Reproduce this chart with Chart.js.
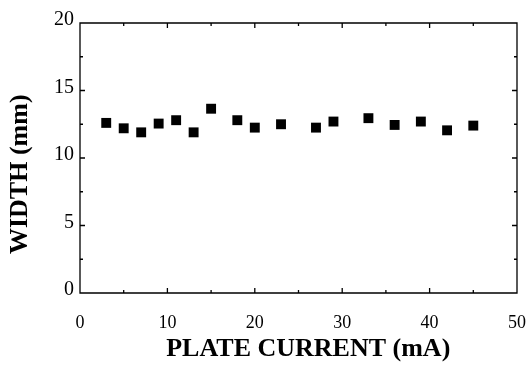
<!DOCTYPE html>
<html>
<head>
<meta charset="utf-8">
<script src="https://cdn.jsdelivr.net/npm/chart.js@4/dist/chart.umd.min.js"></script>
<style>
    html, body { margin: 0; padding: 0; background: #fff; }
    #wrap { width: 528px; height: 365px; }
</style>
</head>
<body>
<div id="wrap"><canvas id="myChart"></canvas></div>
<script>
// plate current (mA) and measured width (mm)
const currents = [3, 5, 7, 9, 11, 13, 15, 18, 20, 23, 27, 29, 33, 36, 39, 42, 45];
const widths = [12.6, 12.2, 11.9, 12.55, 12.8, 11.9, 13.65, 12.8, 12.25, 12.5, 12.25, 12.7, 12.95, 12.45, 12.7, 12.05, 12.4];
const xTicks = [0, 10, 20, 30, 40, 50];
const yTicks = [0, 5, 10, 15, 20];
const xMinor = [5, 15, 25, 35, 45];
const yMinor = [2.5, 7.5, 12.5, 17.5];

const serif = "'Liberation Serif', 'DejaVu Serif', serif";

// frame plus inward ticks on all four sides
const frameTicks = {
    id: "frameTicks",
    afterDraw(chart) {
        const { ctx, chartArea: a, scales } = chart;
        const x = scales.x, y = scales.y;
        ctx.save();
        ctx.strokeStyle = "#000";
        ctx.lineWidth = 1.3;
        ctx.beginPath();
        ctx.moveTo(a.left, a.top);
        ctx.lineTo(a.right, a.top);
        ctx.lineTo(a.right, a.bottom);
        ctx.lineTo(a.left, a.bottom);
        ctx.closePath();
        const tickX = (v, len) => {
            const px = x.getPixelForValue(v);
            ctx.moveTo(px, a.bottom); ctx.lineTo(px, a.bottom - len);
            ctx.moveTo(px, a.top); ctx.lineTo(px, a.top + len);
        };
        const tickY = (v, len) => {
            const py = y.getPixelForValue(v);
            ctx.moveTo(a.left, py); ctx.lineTo(a.left + len, py);
            ctx.moveTo(a.right, py); ctx.lineTo(a.right - len, py);
        };
        xTicks.forEach(v => tickX(v, 5));
        xMinor.forEach(v => tickX(v, 3));
        yTicks.forEach(v => tickY(v, 5));
        yMinor.forEach(v => tickY(v, 3));
        ctx.stroke();
        ctx.restore();
    }
};

// invisible tick marks are used as spacers so label padding
// does not eat into the chart area
const hiddenGrid = (len) => ({
    display: true,
    drawOnChartArea: false,
    drawTicks: true,
    tickLength: len,
    color: "rgba(0,0,0,0)",
});

new Chart(document.getElementById("myChart"), {
    type: "scatter",
    data: {
        datasets: [{
            data: currents.map((c, i) => ({ x: c, y: widths[i] })),
            pointStyle: "rect",
            pointRadius: 7,
            pointHoverRadius: 7,
            backgroundColor: "#000",
            borderColor: "#000",
            borderWidth: 0,
        }],
    },
    options: {
        responsive: true,
        maintainAspectRatio: false,
        animation: false,
        layout: { padding: { top: 23, right: 11, left: 0, bottom: 0 } },
        plugins: {
            legend: { display: false },
            tooltip: { enabled: false },
        },
        scales: {
            x: {
                type: "linear",
                min: 0,
                max: 50,
                afterBuildTicks: s => { s.ticks = xTicks.map(v => ({ value: v })); },
                afterFit: s => { s.height = 72; },
                grid: hiddenGrid(19),
                border: { display: false },
                ticks: {
                    color: "#000",
                    padding: 0,
                    maxRotation: 0,
                    font: { family: serif, size: 18 },
                },
                title: {
                    display: true,
                    // leading spaces nudge the label right as in the original
                    text: "\u00a0\u00a0\u00a0PLATE CURRENT (mA)",
                    color: "#000",
                    padding: { top: 1, bottom: 0 },
                    font: { family: serif, size: 26, weight: "bold" },
                },
            },
            y: {
                min: 0,
                max: 20,
                afterBuildTicks: s => { s.ticks = yTicks.map(v => ({ value: v })); },
                afterFit: s => { s.width = 80; },
                grid: hiddenGrid(6),
                border: { display: false },
                ticks: {
                    color: "#000",
                    padding: 0,
                    callback: v => [String(v), ""],
                    font: { family: serif, size: 20, lineHeight: 0.3 },
                },
                title: {
                    display: true,
                    // trailing spaces push the label down the axis as in the original
                    text: "WIDTH (mm)\u00a0\u00a0\u00a0\u00a0\u00a0",
                    color: "#000",
                    padding: { top: 5, bottom: 0 },
                    font: { family: serif, size: 26, weight: "bold" },
                },
            },
        },
    },
    plugins: [frameTicks],
});
</script>
</body>
</html>
